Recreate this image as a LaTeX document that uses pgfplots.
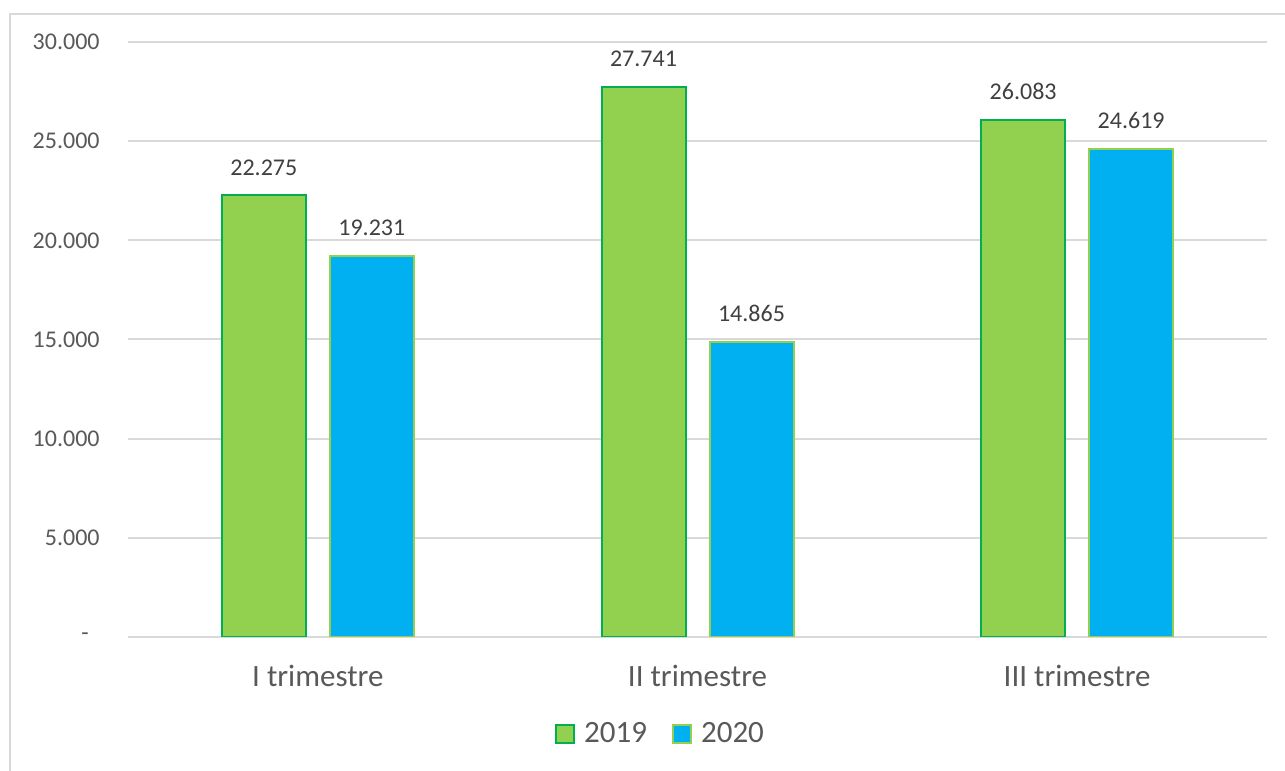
\documentclass[border=0pt]{standalone}
\usepackage{pgfplots}
\pgfplotsset{compat=1.18}
\usepackage{fontspec}
\setmainfont{Carlito}
\definecolor{gfill}{HTML}{92D050}
\definecolor{gline}{HTML}{00B050}
\definecolor{bfill}{HTML}{00B0F0}
\definecolor{gridc}{HTML}{D9D9D9}
\definecolor{txt}{HTML}{595959}
\definecolor{lbl}{HTML}{404040}
\begin{document}
\begin{tikzpicture}
\useasboundingbox (0,0) rectangle (642.5bp,385.5bp);
\fill[white] (0,0) rectangle (642.5bp,385.5bp);
\draw[gridc, line width=1bp] (5bp,-20bp) rectangle (700bp,378.5bp);
\begin{axis}[
  at={(64bp,67bp)}, anchor=south west,
  scale only axis, width=569.5bp, height=297.5bp,
  ybar=12bp, bar width=42bp,
  xmin=-0.5, xmax=2.5, ymin=0, ymax=30000,
  scaled y ticks=false,
  xtick={0,1,2}, xticklabels={I trimestre, II trimestre, III trimestre},
  ytick={0,5000,10000,15000,20000,25000,30000},
  yticklabels={-\kern5.5bp, 5.000, 10.000, 15.000, 20.000, 25.000, 30.000},
  major tick length=0pt, tick style={draw=none},
  axis line style={draw=none},
  ymajorgrids, grid style={gridc, line width=1bp},
  tick label style={font=\fontsize{12bp}{14bp}\selectfont, text=txt},
  yticklabel style={anchor=east, inner sep=0pt, xshift=-14bp},
  xticklabel style={anchor=north, inner sep=0pt, yshift=-14bp, font=\fontsize{15.5bp}{18bp}\selectfont},
  nodes near coords={\pgfmathprintnumber[assume math mode=true, fixed, precision=0, 1000 sep={.}]{\pgfplotspointmeta}},
  nodes near coords style={font=\fontsize{12bp}{14bp}\selectfont, text=lbl, anchor=south, inner sep=0pt, yshift=9.5bp},
  legend columns=2,
  legend style={at={(0.4667,-0.163)}, anchor=center, draw=none, fill=none,
    font=\fontsize{15.5bp}{18bp}\selectfont, text=txt, inner sep=0pt,
    nodes={inner sep=0pt},
    column sep=4.5bp,
    /tikz/every even column/.append style={column sep=12.5bp}},
]
\addplot[fill=gfill, draw=gline, line width=1bp,
  legend image code/.code={\draw[fill=gfill, draw=gline, line width=1bp] (0bp,-4.5bp) rectangle (9bp,4.5bp);}]
  coordinates {(0,22275) (1,27741) (2,26083)};
\addlegendentry{2019}
\addplot[fill=bfill, draw=gfill, line width=1bp,
  legend image code/.code={\draw[fill=bfill, draw=gfill, line width=1bp] (0bp,-4.5bp) rectangle (9bp,4.5bp);}]
  coordinates {(0,19231) (1,14865) (2,24619)};
\addlegendentry{2020}
\end{axis}
\end{tikzpicture}
\end{document}
